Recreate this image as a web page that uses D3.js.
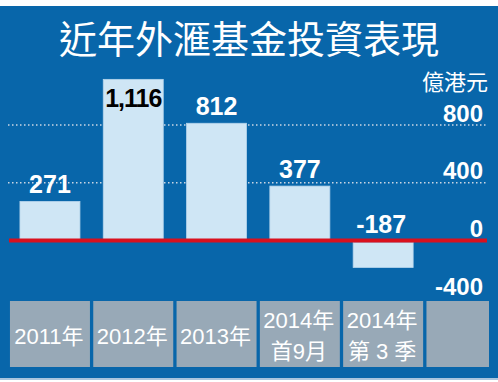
<!DOCTYPE html>
<html><head><meta charset="utf-8">
<script src="https://cdn.jsdelivr.net/npm/d3@7"></script>
<style>body{margin:0;background:#fff}svg{display:block}</style>
</head><body>
<svg id="c" width="498" height="382"></svg>
<script>
const title = "近年外滙基金投資表現";
const unit = "億港元";
const categories = [["2011年"], ["2012年"], ["2013年"], ["2014年", "首9月"], ["2014年", "第 3 季"]];
const values = [271, 1116, 812, 377, -187];
const valueLabels = ["271", "1,116", "812", "377", "-187"];
const tickValues = [-400, 0, 400, 800];
const tickLabels = ["-400", "0", "400", "800"];
const gridValues = [400, 800];

const svg = d3.select("#c");
const W = 498, H = 382;
const BLUE = "#0866aa";
const numFont = "'Liberation Sans', Arial, sans-serif";
const cjkFont = "'Liberation Sans', 'Noto Sans CJK TC', sans-serif";

svg.append("rect").attr("x", 0).attr("y", 6).attr("width", W).attr("height", 372).attr("fill", BLUE);
svg.append("rect").attr("x", 0).attr("y", 378).attr("width", W).attr("height", 2).attr("fill", "#a9c6df");

const slots = d3.range(categories.length + 1);
const x = d3.scaleBand().domain(slots).range([8.3, 508.1]).padding(0);
const y = d3.scaleLinear().domain([-400, 800]).range([298.3, 125]);
const cx = i => x(i) + x.bandwidth() / 2;

// title
svg.append("text").attr("x", 249).attr("y", 53).attr("text-anchor", "middle")
  .attr("fill", "#fff").style("font-family", "'Noto Sans CJK TC', sans-serif")
  .style("font-size", "38px").text(title);

// unit
svg.append("text").attr("x", 488).attr("y", 90).attr("text-anchor", "end")
  .attr("fill", "#fff").style("font-family", "'Noto Sans CJK TC', sans-serif")
  .style("font-size", "22px").text(unit);

// gridlines
svg.append("g").selectAll("line").data(gridValues).join("line")
  .attr("x1", 8).attr("x2", 487).attr("y1", d => y(d)).attr("y2", d => y(d))
  .attr("stroke", "#c9d6e3").attr("stroke-width", 1.5).attr("stroke-dasharray", "1.5 2.5");

// axis tick labels
const axis = d3.axisRight(y).tickValues(tickValues).tickSize(0).tickFormat((d, i) => tickLabels[i]);
const ag = svg.append("g").attr("transform", "translate(483,0)").call(axis);
ag.select(".domain").remove();
ag.selectAll("text").attr("x", 0).attr("dy", "-4px").attr("text-anchor", "end")
  .attr("fill", "#fff").style("font-family", numFont).style("font-weight", "bold").style("font-size", "24px")
  .attr("dominant-baseline", "auto");

// bars
svg.append("g").selectAll("rect").data(values).join("rect")
  .attr("x", (d, i) => cx(i) - 30).attr("width", 60)
  .attr("y", d => d >= 0 ? y(d) : y(0) + 2)
  .attr("height", d => d >= 0 ? y(0) - y(d) : y(d) - y(0) - 2)
  .attr("fill", "#cfe6f5").attr("stroke", "#b5d4ec").attr("stroke-width", 0.8);

// zero line
svg.append("line").attr("x1", 9).attr("x2", 487).attr("y1", y(0)).attr("y2", y(0))
  .attr("stroke", "#d9111e").attr("stroke-width", 4);

// value labels
svg.append("g").selectAll("text").data(values).join("text")
  .attr("x", (d, i) => cx(i) + (d < 0 ? -2 : 0))
  .attr("y", (d, i) => d > 1000 ? y(d) + 28 : Math.min(y(d), y(0)) - 8)
  .attr("text-anchor", "middle")
  .attr("fill", d => d > 1000 ? "#000" : "#fff")
  .style("letter-spacing", d => d > 1000 ? "-1px" : "0px")
  .style("font-family", numFont).style("font-weight", "bold").style("font-size", "25px")
  .text((d, i) => valueLabels[i]);

// category boxes
const boxTop = 301, boxH = 66;
svg.append("g").selectAll("rect").data(slots).join("rect")
  .attr("x", i => cx(i) - 40)
  .attr("width", i => Math.min(80, 489 - (cx(i) - 40)))
  .attr("y", boxTop).attr("height", boxH)
  .attr("fill", "#98a9b7");

const lab = svg.append("g").selectAll("text").data(categories).join("text")
  .attr("text-anchor", "middle").attr("fill", "#fff")
  .style("font-family", cjkFont).style("font-size", "22px");
lab.each(function (lines, i) {
  const t = d3.select(this);
  const ys = lines.length === 1 ? [344] : [328, 359];
  lines.forEach((l, k) => t.append("tspan").attr("x", cx(i) - 1).attr("y", ys[k]).text(l));
});
</script>
</body></html>
